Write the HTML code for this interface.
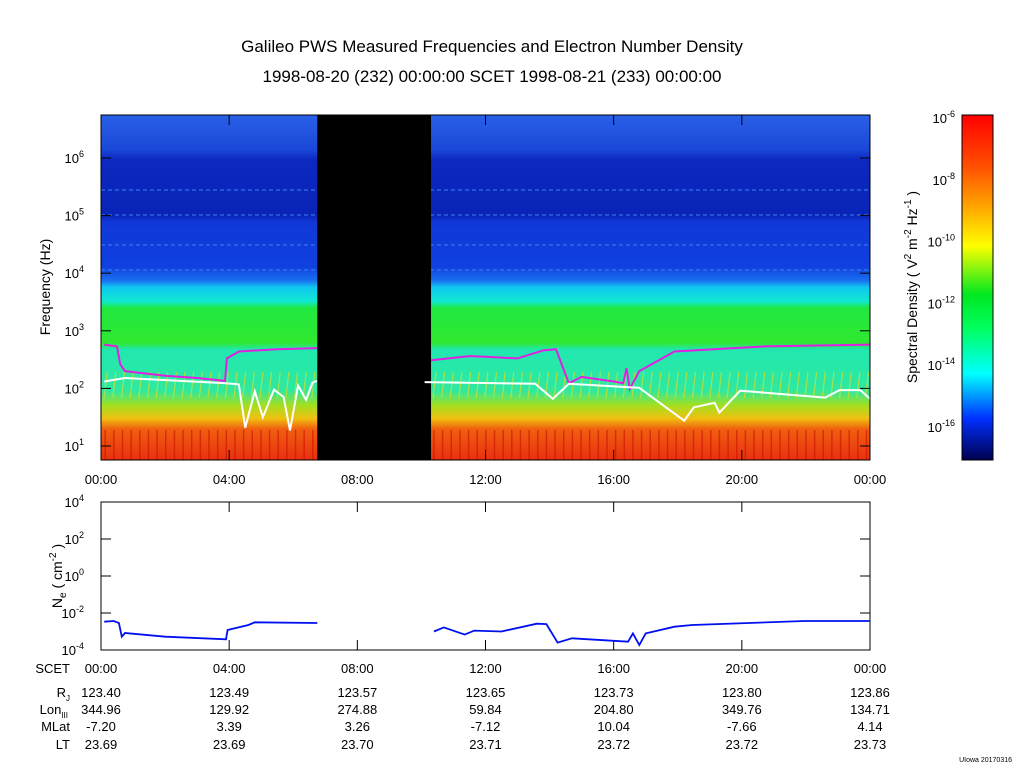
<!DOCTYPE html>
<html><head><meta charset="utf-8"><style>
body{margin:0;background:#fff;font-family:"Liberation Sans",sans-serif;}
svg text{font-family:"Liberation Sans",sans-serif;fill:#000;}
</style></head><body>
<svg width="1024" height="767" viewBox="0 0 1024 767">
<defs>
<linearGradient id="spec" x1="0" y1="0" x2="0" y2="1">
<stop offset="0" stop-color="#2a60e8"/><stop offset="0.1" stop-color="#1a48d8"/>
<stop offset="0.13" stop-color="#0c28c0"/><stop offset="0.29" stop-color="#0a24b8"/>
<stop offset="0.31" stop-color="#1038d8"/><stop offset="0.44" stop-color="#1040e0"/>
<stop offset="0.48" stop-color="#1a70f0"/><stop offset="0.5" stop-color="#10c8f0"/>
<stop offset="0.54" stop-color="#10e8d0"/><stop offset="0.56" stop-color="#20e840"/>
<stop offset="0.66" stop-color="#30e830"/><stop offset="0.68" stop-color="#20e8b0"/>
<stop offset="0.8" stop-color="#30e8a0"/><stop offset="0.84" stop-color="#a0e020"/>
<stop offset="0.88" stop-color="#f0c010"/><stop offset="0.91" stop-color="#f06010"/>
<stop offset="1" stop-color="#e83010"/>
</linearGradient>
<linearGradient id="cbar" x1="0" y1="0" x2="0" y2="1">
<stop offset="0" stop-color="#ff0000"/><stop offset="0.15" stop-color="#ff5000"/>
<stop offset="0.28" stop-color="#ffb000"/><stop offset="0.38" stop-color="#ffff00"/>
<stop offset="0.52" stop-color="#00e820"/><stop offset="0.62" stop-color="#00ff60"/>
<stop offset="0.75" stop-color="#00ffff"/><stop offset="0.88" stop-color="#0030ff"/>
<stop offset="1" stop-color="#000050"/>
</linearGradient>
<clipPath id="pclip"><rect x="101" y="115" width="769" height="345"/></clipPath>
<clipPath id="dclip"><rect x="101" y="502" width="769" height="148"/></clipPath>
</defs>
<text x="492" y="52" font-size="17" text-anchor="middle">Galileo PWS Measured Frequencies and Electron Number Density</text>
<text x="492" y="82" font-size="17" text-anchor="middle">1998-08-20 (232) 00:00:00 SCET 1998-08-21 (233) 00:00:00</text>

<g id="spec-g">
<rect x="101" y="115" width="769" height="345" fill="url(#spec)"/>
<g id="stripes" clip-path="url(#pclip)"></g>
<rect id="gap" fill="#000"/>
</g>
<g id="lines" clip-path="url(#pclip)"></g>
<rect x="101" y="115" width="769" height="345" fill="none" stroke="#000"/>
<g id="faxis"></g>
<text transform="translate(50,287) rotate(-90)" font-size="14" text-anchor="middle">Frequency (Hz)</text>

<rect x="962" y="115" width="31" height="345" fill="url(#cbar)" stroke="#000"/>
<g id="caxis"></g>
<text transform="translate(917,287) rotate(-90)" font-size="14" text-anchor="middle">Spectral Density ( V<tspan dy="-6" font-size="10">2</tspan><tspan dy="6"> m</tspan><tspan dy="-6" font-size="10">-2</tspan><tspan dy="6"> Hz</tspan><tspan dy="-6" font-size="10">-1</tspan><tspan dy="6"> )</tspan></text>

<rect x="101" y="502" width="769" height="148" fill="none" stroke="#000"/>
<g id="dens" clip-path="url(#dclip)"></g>
<g id="daxis"></g>
<text transform="translate(62,576) rotate(-90)" font-size="14" text-anchor="middle">N<tspan dy="4" font-size="10">e</tspan><tspan dy="-4"> ( cm</tspan><tspan dy="-6" font-size="10">-2</tspan><tspan dy="6"> )</tspan></text>
<g id="table" font-size="13"></g>
<text x="1012" y="762" font-size="7" text-anchor="end">UIowa 20170316</text>
</svg>
<script>
const NS='http://www.w3.org/2000/svg';
const magentaSeg1=[[0.1,2.76],[0.5,2.73],[0.6,2.42],[0.75,2.30],[2,2.22],[3,2.18],[3.87,2.13],[3.93,2.52],[4.3,2.64],[5.5,2.68],[6.74,2.7]];
const magentaSeg2=[[10.3,2.49],[11.5,2.56],[12,2.55],[13,2.52],[13.8,2.66],[14.2,2.68],[14.6,2.09],[15,2.2],[16,2.12],[16.3,2.09],[16.4,2.35],[16.5,1.99],[16.8,2.3],[17.9,2.64],[20.7,2.73],[24,2.76]];
const whiteSeg1=[[0.1,2.12],[0.75,2.18],[3.9,2.09],[4.3,2.07],[4.5,1.32],[4.8,1.95],[5.05,1.5],[5.4,1.98],[5.7,1.85],[5.9,1.27],[6.15,2.05],[6.4,1.8],[6.6,2.1],[6.74,2.13]];
const whiteSeg2=[[10.1,2.11],[13.55,2.08],[14.1,1.82],[14.6,2.08],[16.8,2.01],[18.2,1.44],[18.5,1.67],[19.15,1.75],[19.3,1.58],[19.95,1.96],[22.6,1.84],[23.05,1.97],[23.7,1.97],[24,1.82]];
const densSeg1=[[0.1,-2.47],[0.4,-2.43],[0.56,-2.54],[0.65,-3.28],[0.75,-3.08],[2.0,-3.28],[3.9,-3.42],[3.95,-2.92],[4.6,-2.65],[4.8,-2.5],[6.75,-2.54]];
const densSeg2=[[10.39,-3.0],[10.7,-2.78],[11.35,-3.17],[11.65,-2.95],[12.5,-3.0],[13.6,-2.58],[13.9,-2.6],[14.25,-3.6],[14.7,-3.37],[16.45,-3.55],[16.6,-3.1],[16.8,-3.73],[17.0,-3.1],[17.9,-2.74],[18.45,-2.65],[21.95,-2.43],[24,-2.43]];
const gapHours=[6.75,10.3];
const timeTicks=['00:00','04:00','08:00','12:00','16:00','20:00','00:00'];
const freqTicks=[1,2,3,4,5,6];
const densTicks=[4,2,0,-2,-4];
const cbarTicks=[-6,-8,-10,-12,-14,-16];
const rowR=['123.40','123.49','123.57','123.65','123.73','123.80','123.86'];
const rowLon=['344.96','129.92','274.88','59.84','204.80','349.76','134.71'];
const rowMLat=['-7.20','3.39','3.26','-7.12','10.04','-7.66','4.14'];
const rowLT=['23.69','23.69','23.70','23.71','23.72','23.72','23.73'];

const X=h=>101+h*769/24;
const Yf=l=>446-(l-1)*57.6;
const Yd=l=>650-(l+4)*18.5;
const Yc=l=>118+(-6-l)*30.9;
function mk(t,a,p){const e=document.createElementNS(NS,t);for(const k in a)e.setAttribute(k,a[k]);(p||document.querySelector('svg')).appendChild(e);return e;}
const gap=document.getElementById('gap');
gap.setAttribute('x',X(gapHours[0]));gap.setAttribute('y',115);gap.setAttribute('width',X(gapHours[1])-X(gapHours[0]));gap.setAttribute('height',345);
const st=document.getElementById('stripes');
for(let h=0.1;h<24;h+=0.27){if(h>gapHours[0]-0.1&&h<gapHours[1])continue;
 const s=mk('line',{x1:X(h),x2:X(h)+3,y1:398,y2:372,stroke:'#d8e020','stroke-width':1.2,opacity:0.7},st);
 
 const r=mk('line',{x1:X(h)+1,x2:X(h)+1,y1:430,y2:460,stroke:'#d01000','stroke-width':1.5,opacity:0.6},st);
 }
[190,215,245,270].forEach(y=>{const l=mk('line',{x1:101,x2:870,y1:y,y2:y,stroke:'#3a80f0','stroke-width':1.5,'stroke-dasharray':'4 3',opacity:0.7},st);
 });
function path(seg,fy,col,w,g,name){const d=seg.map((p,i)=>(i?'L':'M')+X(p[0]).toFixed(1)+','+fy(p[1]).toFixed(1)).join('');
 const e=mk('path',{d:d,fill:'none',stroke:col,'stroke-width':w},g);
 
 }
const lg=document.getElementById('lines');
path(magentaSeg1,Yf,'#e020e0',2,lg,'upper-hybrid-line');path(magentaSeg2,Yf,'#e020e0',2,lg,'upper-hybrid-line');
path(whiteSeg1,Yf,'#fff',2,lg,'plasma-frequency-line');path(whiteSeg2,Yf,'#fff',2,lg,'plasma-frequency-line');
const dg=document.getElementById('dens');
path(densSeg1,Yd,'#0010f0',1.8,dg,'density-line');path(densSeg2,Yd,'#0010f0',1.8,dg,'density-line');
const fa=document.getElementById('faxis');
freqTicks.forEach(l=>{const y=Yf(l);
 mk('line',{x1:101,x2:111,y1:y,y2:y,stroke:'#000'},fa);mk('line',{x1:860,x2:870,y1:y,y2:y,stroke:'#000'},fa);
 const t=mk('text',{x:84,y:y+5,'font-size':13,'text-anchor':'end'},fa);t.innerHTML='10<tspan dy="-6" font-size="9">'+l+'</tspan>';
 });
timeTicks.forEach((s,i)=>{const x=X(i*4);
 mk('line',{x1:x,x2:x,y1:460,y2:450,stroke:'#000'},fa);mk('line',{x1:x,x2:x,y1:115,y2:125,stroke:'#000'},fa);
 mk('line',{x1:x,x2:x,y1:650,y2:640,stroke:'#000'},fa);mk('line',{x1:x,x2:x,y1:502,y2:512,stroke:'#000'},fa);
 const t=mk('text',{x:x,y:484,'font-size':13,'text-anchor':'middle'},fa);t.textContent=s;
 });
const ca=document.getElementById('caxis');
cbarTicks.forEach(l=>{const y=Yc(l);
 const t=mk('text',{x:955,y:y+5,'font-size':13,'text-anchor':'end'},ca);t.innerHTML='10<tspan dy="-6" font-size="9">'+l+'</tspan>';
 });
const da=document.getElementById('daxis');
densTicks.forEach(l=>{const y=Yd(l);
 mk('line',{x1:101,x2:111,y1:y,y2:y,stroke:'#000'},da);mk('line',{x1:860,x2:870,y1:y,y2:y,stroke:'#000'},da);
 const t=mk('text',{x:84,y:y+5,'font-size':13,'text-anchor':'end'},da);t.innerHTML='10<tspan dy="-6" font-size="9">'+l+'</tspan>';
 });
const tb=document.getElementById('table');
const rows=[timeTicks,rowR,rowLon,rowMLat,rowLT];const ys=[673,697,714,731,749];
const lbls=['SCET','R<tspan dy="4" font-size="8">J</tspan>','Lon<tspan dy="4" font-size="8">III</tspan>','MLat','LT'];
rows.forEach((r,ri)=>{const t=mk('text',{x:ri==2?68:70,y:ys[ri],'text-anchor':'end','font-size':13},tb);t.innerHTML=lbls[ri];
 
 r.forEach((v,i)=>{const c=mk('text',{x:X(i*4),y:ys[ri],'text-anchor':'middle','font-size':13},tb);c.textContent=v;
 });});
</script>
</body></html>
